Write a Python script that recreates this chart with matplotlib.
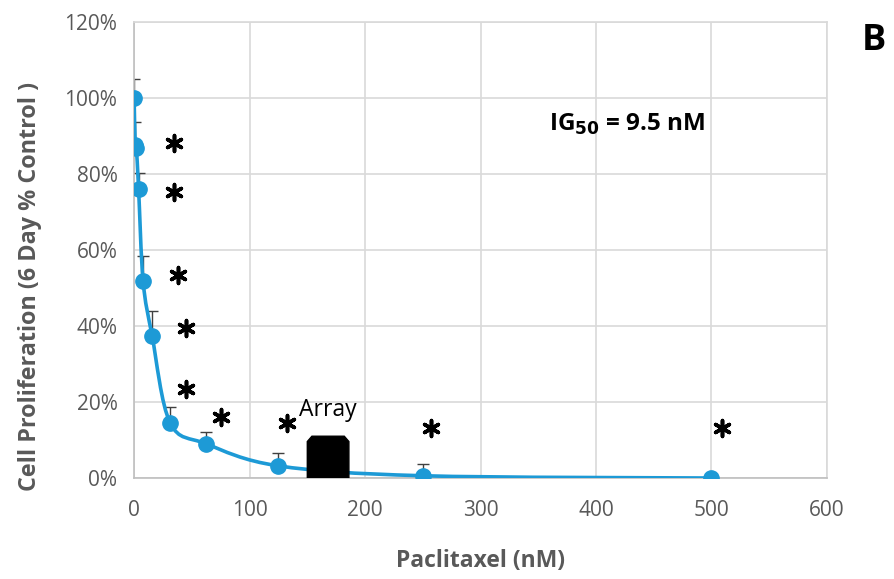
import numpy as np
import matplotlib
matplotlib.use("Agg")
import matplotlib.pyplot as plt
from matplotlib.path import Path
from matplotlib.patches import PathPatch, Polygon
from matplotlib.ticker import FuncFormatter

plt.rcParams["font.family"] = ["Open Sans", "DejaVu Sans"]

# paclitaxel dose (nM) and 6 day proliferation (% of control)
conc = [0, 0.98, 1.95, 3.9, 7.8, 15.6, 31.25, 62.5, 125, 250, 500]
prolif = [100, 87.6, 86.8, 76, 51.8, 37.4, 14.5, 9, 3.2, 0.6, 0]
err_up = [5, 6, 0, 4.3, 6.6, 6.6, 4.2, 3.1, 3.3, 3.1, 0]

# significance stars
star_x = [34.6, 34.6, 38.1, 45, 45, 75.3, 132.5, 257, 509]
star_y = [88.2, 75.3, 53.4, 39.5, 23.4, 16.1, 14.5, 13.2, 13.2]

# array concentration range
array_lo, array_hi, array_top = 150, 186, 11

blue = "#1d9ad6"
gray = "#595959"
grid = "#d9d9d9"

fig = plt.figure(figsize=(8.94, 5.79), dpi=100)
ax = fig.add_axes([0.150, 0.1744, 0.775, 0.7876])

ax.set_xlim(0, 600)
ax.set_ylim(0, 120)
ax.set_xticks(range(0, 601, 100))
ax.set_yticks(range(0, 121, 20))
ax.yaxis.set_major_formatter(FuncFormatter(lambda v, p: f"{int(v)}%"))
ax.grid(True, color=grid, linewidth=1.2)
ax.set_axisbelow(True)
for s in ax.spines.values():
    s.set_color(grid)
    s.set_linewidth(1.2)
ax.spines["left"].set_color("#bfbfbf")
ax.spines["bottom"].set_color("#bfbfbf")
ax.tick_params(length=0, labelsize=15, labelcolor=gray)
ax.tick_params(axis="x", pad=16)
ax.tick_params(axis="y", pad=12)

# smoothed line (bezier through the points, like excel)
pts = np.column_stack([conc, prolif])
verts = [pts[0]]
codes = [Path.MOVETO]
n = len(pts)
for i in range(n - 1):
    p_prev = pts[max(i - 1, 0)]
    p_next2 = pts[min(i + 2, n - 1)]
    c1 = pts[i] + (pts[i + 1] - p_prev) / 6
    c2 = pts[i + 1] - (p_next2 - pts[i]) / 6
    verts += [c1, c2, pts[i + 1]]
    codes += [Path.CURVE4] * 3
ax.add_patch(PathPatch(Path(verts, codes), fill=False, edgecolor=blue,
                       linewidth=2.6, zorder=3))

ax.errorbar(conc, prolif, yerr=[np.zeros(len(err_up)), err_up], fmt="none",
            ecolor="#404040", elinewidth=1, capsize=4, capthick=1, zorder=2)
ax.plot(conc, prolif, "o", color=blue, markersize=11, zorder=4)

ax.scatter(star_x, star_y, marker=(6, 2, 0), s=130, color="black",
           linewidths=2.6, zorder=5)

ch_x, ch_y = 4, 1.4
ax.add_patch(Polygon([(array_lo, 0), (array_lo, array_top - ch_y),
                      (array_lo + ch_x, array_top), (array_hi - ch_x, array_top),
                      (array_hi, array_top - ch_y), (array_hi, 0)],
                     closed=True, facecolor="black", edgecolor="black", zorder=5))
ax.text((array_lo + array_hi) / 2, 18, "Array", fontsize=16.5, ha="center",
        va="center", color="black")

ax.text(427, 93, r"IG$_{\mathbf{50}}$ = 9.5 nM", fontsize=17.5, fontweight="bold",
        ha="center", va="center", color="black")

ax.set_xlabel("Paclitaxel (nM)", fontsize=16.5, fontweight="bold", color=gray)
ax.xaxis.set_label_coords(0.5, -0.155)
ax.set_ylabel("Cell Proliferation (6 Day % Control )", fontsize=16.8,
              fontweight="bold", color=gray)
ax.yaxis.set_label_coords(-0.133, 0.42)

fig.text(0.978, 0.93, "B", fontsize=26, fontweight="bold", ha="center",
         va="center", color="black")

fig.savefig("out.png", dpi=100)
